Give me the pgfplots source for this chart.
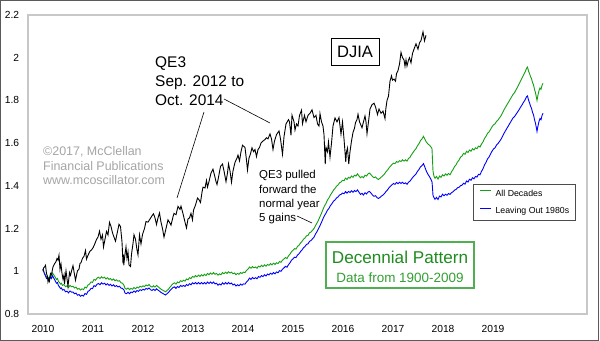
\documentclass[border=0pt]{standalone}
\usepackage{fontspec}
\setmainfont{Liberation Sans}
\usepackage{pgfplots}
\usepackage{pgfplotstable}
\pgfplotsset{compat=1.18}
\definecolor{decgreen}{RGB}{20,160,20}
\definecolor{decblue}{RGB}{0,0,255}
\definecolor{titlegreen}{RGB}{30,140,30}
\definecolor{subgreen}{RGB}{50,160,50}
\definecolor{boxgreen}{RGB}{80,175,80}
\definecolor{axisgray}{RGB}{200,200,200}
\definecolor{copygray}{RGB}{165,165,165}
\definecolor{framegray}{RGB}{90,90,90}

\pgfplotstableread{
x g b
2010.00 1.010 1.010
2010.03 0.990 0.988
2010.05 0.982 0.978
2010.07 0.972 0.966
2010.09 0.976 0.969
2010.11 0.966 0.957
2010.13 0.972 0.962
2010.15 0.984 0.973
2010.17 0.978 0.966
2010.19 0.992 0.979
2010.21 0.985 0.970
2010.23 0.978 0.962
2010.25 0.970 0.953
2010.27 0.962 0.944
2010.29 0.966 0.947
2010.31 0.952 0.932
2010.33 0.948 0.927
2010.35 0.940 0.919
2010.37 0.944 0.922
2010.39 0.934 0.912
2010.42 0.938 0.915
2010.45 0.928 0.904
2010.48 0.932 0.907
2010.51 0.924 0.899
2010.54 0.934 0.908
2010.57 0.928 0.902
2010.60 0.930 0.903
2010.63 0.922 0.895
2010.66 0.926 0.898
2010.69 0.916 0.888
2010.72 0.920 0.891
2010.75 0.912 0.883
2010.78 0.918 0.888
2010.81 0.914 0.884
2010.84 0.926 0.896
2010.87 0.922 0.892
2010.90 0.936 0.906
2010.93 0.940 0.910
2010.96 0.950 0.920
2010.99 0.948 0.919
2011.02 0.962 0.933
2011.05 0.958 0.929
2011.08 0.968 0.939
2011.11 0.972 0.943
2011.14 0.966 0.937
2011.17 0.974 0.946
2011.20 0.968 0.940
2011.23 0.972 0.944
2011.26 0.964 0.936
2011.29 0.970 0.942
2011.32 0.962 0.934
2011.35 0.966 0.939
2011.38 0.958 0.931
2011.41 0.964 0.937
2011.44 0.956 0.929
2011.47 0.960 0.933
2011.50 0.954 0.927
2011.53 0.956 0.930
2011.56 0.946 0.921
2011.59 0.944 0.920
2011.62 0.934 0.912
2011.64 0.920 0.898
2011.67 0.916 0.895
2011.70 0.922 0.902
2011.73 0.914 0.895
2011.76 0.920 0.903
2011.79 0.916 0.900
2011.82 0.924 0.908
2011.85 0.918 0.902
2011.88 0.926 0.910
2011.91 0.922 0.906
2011.94 0.930 0.914
2011.97 0.926 0.910
2012.00 0.932 0.916
2012.03 0.928 0.912
2012.06 0.936 0.920
2012.09 0.932 0.916
2012.12 0.938 0.922
2012.15 0.930 0.914
2012.18 0.926 0.910
2012.21 0.932 0.916
2012.24 0.926 0.910
2012.27 0.934 0.918
2012.30 0.928 0.912
2012.33 0.922 0.907
2012.36 0.916 0.901
2012.39 0.912 0.897
2012.42 0.908 0.893
2012.45 0.904 0.889
2012.48 0.910 0.895
2012.51 0.916 0.901
2012.54 0.926 0.910
2012.57 0.934 0.917
2012.60 0.942 0.924
2012.63 0.946 0.927
2012.66 0.940 0.920
2012.69 0.950 0.929
2012.72 0.946 0.924
2012.75 0.956 0.934
2012.78 0.952 0.929
2012.81 0.958 0.934
2012.84 0.954 0.929
2012.87 0.964 0.938
2012.90 0.960 0.933
2012.93 0.970 0.942
2012.96 0.966 0.937
2012.99 0.976 0.946
2013.02 0.972 0.941
2013.05 0.980 0.948
2013.08 0.974 0.941
2013.11 0.982 0.948
2013.14 0.976 0.941
2013.17 0.984 0.948
2013.20 0.978 0.941
2013.23 0.986 0.948
2013.26 0.980 0.941
2013.29 0.990 0.950
2013.32 0.984 0.943
2013.35 0.992 0.950
2013.38 0.986 0.943
2013.41 0.994 0.950
2013.44 0.986 0.941
2013.47 0.990 0.944
2013.50 0.982 0.935
2013.53 0.988 0.941
2013.56 0.984 0.936
2013.59 0.994 0.946
2013.62 0.988 0.939
2013.65 0.996 0.947
2013.68 0.990 0.940
2013.71 0.998 0.948
2013.74 0.992 0.941
2013.77 0.996 0.945
2013.80 0.988 0.936
2013.83 0.992 0.940
2013.86 0.984 0.931
2013.89 0.990 0.937
2013.92 0.986 0.932
2013.95 0.994 0.940
2013.98 0.990 0.935
2014.01 0.996 0.941
2014.04 0.994 0.940
2014.07 1.004 0.950
2014.10 1.010 0.957
2014.13 1.020 0.968
2014.16 1.014 0.962
2014.19 1.022 0.971
2014.22 1.016 0.965
2014.25 1.020 0.970
2014.28 1.014 0.965
2014.31 1.024 0.975
2014.34 1.020 0.972
2014.37 1.028 0.980
2014.40 1.022 0.975
2014.43 1.030 0.984
2014.46 1.024 0.978
2014.49 1.032 0.987
2014.52 1.028 0.983
2014.55 1.036 0.991
2014.58 1.030 0.986
2014.61 1.038 0.994
2014.64 1.032 0.988
2014.67 1.040 0.997
2014.70 1.036 0.993
2014.73 1.046 1.003
2014.76 1.042 1.000
2014.79 1.052 1.010
2014.82 1.058 1.016
2014.85 1.064 1.023
2014.88 1.060 1.019
2014.91 1.072 1.031
2014.94 1.080 1.040
2014.97 1.092 1.052
2015.00 1.098 1.058
2015.03 1.106 1.066
2015.06 1.104 1.064
2015.09 1.116 1.076
2015.12 1.122 1.082
2015.15 1.132 1.092
2015.18 1.140 1.100
2015.21 1.150 1.110
2015.24 1.156 1.116
2015.27 1.166 1.126
2015.30 1.168 1.128
2015.33 1.180 1.140
2015.36 1.184 1.144
2015.39 1.192 1.152
2015.42 1.200 1.160
2015.45 1.214 1.174
2015.48 1.226 1.186
2015.51 1.240 1.200
2015.54 1.256 1.214
2015.57 1.272 1.229
2015.60 1.290 1.246
2015.63 1.306 1.261
2015.66 1.318 1.272
2015.69 1.334 1.286
2015.72 1.344 1.295
2015.75 1.358 1.308
2015.78 1.368 1.317
2015.81 1.380 1.328
2015.84 1.388 1.334
2015.87 1.398 1.343
2015.90 1.404 1.348
2015.93 1.414 1.357
2015.96 1.418 1.360
2015.99 1.426 1.366
2016.02 1.424 1.363
2016.05 1.436 1.373
2016.08 1.430 1.366
2016.11 1.440 1.374
2016.14 1.436 1.369
2016.17 1.446 1.377
2016.20 1.440 1.370
2016.23 1.450 1.378
2016.26 1.446 1.373
2016.29 1.456 1.381
2016.32 1.446 1.370
2016.35 1.438 1.360
2016.38 1.444 1.365
2016.41 1.438 1.357
2016.44 1.450 1.368
2016.47 1.446 1.362
2016.50 1.456 1.371
2016.53 1.460 1.374
2016.56 1.452 1.366
2016.59 1.444 1.357
2016.62 1.438 1.351
2016.65 1.442 1.354
2016.68 1.434 1.345
2016.71 1.430 1.341
2016.74 1.436 1.346
2016.77 1.442 1.352
2016.80 1.448 1.357
2016.83 1.456 1.364
2016.86 1.466 1.374
2016.89 1.474 1.381
2016.92 1.484 1.391
2016.95 1.492 1.398
2016.98 1.500 1.405
2017.01 1.506 1.411
2017.04 1.504 1.407
2017.07 1.514 1.416
2017.10 1.510 1.410
2017.13 1.518 1.417
2017.16 1.514 1.411
2017.19 1.522 1.417
2017.22 1.516 1.410
2017.25 1.522 1.414
2017.28 1.516 1.407
2017.31 1.528 1.417
2017.34 1.534 1.422
2017.37 1.546 1.432
2017.40 1.556 1.441
2017.43 1.566 1.449
2017.46 1.574 1.456
2017.49 1.588 1.468
2017.52 1.598 1.477
2017.55 1.612 1.489
2017.58 1.620 1.495
2017.61 1.632 1.504
2017.64 1.618 1.486
2017.67 1.604 1.467
2017.70 1.596 1.454
2017.73 1.590 1.443
2017.76 1.582 1.430
2017.78 1.574 1.419
2017.79 1.520 1.390
2017.80 1.470 1.355
2017.82 1.444 1.345
2017.84 1.436 1.337
2017.87 1.444 1.346
2017.90 1.432 1.336
2017.93 1.446 1.352
2017.96 1.440 1.348
2017.99 1.452 1.361
2018.02 1.446 1.354
2018.05 1.456 1.361
2018.08 1.450 1.356
2018.11 1.458 1.364
2018.14 1.452 1.360
2018.17 1.466 1.368
2018.20 1.476 1.372
2018.23 1.490 1.380
2018.26 1.498 1.383
2018.29 1.512 1.391
2018.32 1.520 1.393
2018.35 1.534 1.401
2018.38 1.540 1.403
2018.41 1.552 1.412
2018.44 1.548 1.408
2018.47 1.562 1.423
2018.50 1.556 1.418
2018.53 1.568 1.431
2018.56 1.562 1.426
2018.59 1.574 1.438
2018.62 1.568 1.433
2018.65 1.578 1.444
2018.68 1.574 1.441
2018.71 1.586 1.454
2018.74 1.582 1.452
2018.77 1.596 1.468
2018.80 1.606 1.480
2018.83 1.622 1.498
2018.86 1.632 1.510
2018.89 1.646 1.526
2018.92 1.652 1.535
2018.95 1.664 1.549
2018.98 1.676 1.562
2019.01 1.686 1.573
2019.04 1.690 1.578
2019.07 1.702 1.591
2019.10 1.708 1.598
2019.13 1.718 1.608
2019.16 1.728 1.618
2019.19 1.742 1.632
2019.22 1.756 1.646
2019.25 1.768 1.658
2019.28 1.780 1.670
2019.31 1.792 1.682
2019.34 1.804 1.694
2019.37 1.816 1.706
2019.40 1.828 1.718
2019.43 1.836 1.724
2019.46 1.850 1.735
2019.49 1.862 1.745
2019.52 1.876 1.756
2019.55 1.890 1.768
2019.58 1.904 1.779
2019.61 1.918 1.791
2019.64 1.932 1.802
2019.67 1.950 1.817
2019.69 1.956 1.821
2019.71 1.938 1.802
2019.73 1.926 1.789
2019.75 1.912 1.774
2019.77 1.902 1.763
2019.79 1.884 1.744
2019.81 1.874 1.733
2019.83 1.852 1.710
2019.85 1.836 1.693
2019.87 1.812 1.668
2019.88 1.800 1.655
2019.90 1.826 1.681
2019.92 1.846 1.702
2019.94 1.858 1.715
2019.96 1.852 1.710
2019.98 1.870 1.729
2020.00 1.880 1.740
}\decennial

\pgfplotstableread{
x y
2010.00 1.000
2010.01 1.015
2010.03 1.020
2010.05 1.028
2010.07 0.990
2010.09 0.975
2010.10 0.950
2010.12 0.965
2010.13 0.955
2010.15 0.990
2010.17 0.985
2010.20 1.021
2010.23 1.035
2010.26 1.045
2010.28 1.060
2010.30 1.052
2010.32 1.075
2010.34 1.009
2010.36 1.034
2010.38 0.990
2010.40 0.963
2010.42 0.983
2010.43 0.941
2010.46 1.002
2010.48 0.965
2010.50 0.929
2010.53 0.994
2010.55 0.981
2010.58 1.010
2010.60 1.026
2010.63 0.985
2010.65 0.958
2010.69 1.003
2010.72 1.010
2010.74 1.037
2010.76 1.040
2010.79 1.061
2010.82 1.070
2010.85 1.097
2010.87 1.057
2010.90 1.075
2010.94 1.094
2010.97 1.100
2011.00 1.110
2011.03 1.125
2011.07 1.149
2011.10 1.160
2011.13 1.188
2011.16 1.150
2011.19 1.170
2011.21 1.114
2011.24 1.150
2011.27 1.187
2011.30 1.170
2011.33 1.229
2011.36 1.210
2011.39 1.180
2011.42 1.160
2011.45 1.141
2011.48 1.175
2011.52 1.220
2011.55 1.210
2011.58 1.138
2011.60 1.037
2011.61 1.078
2011.615 1.028
2011.64 1.080
2011.66 1.114
2011.68 1.060
2011.70 1.090
2011.72 1.029
2011.75 1.022
2011.77 1.080
2011.80 1.130
2011.82 1.171
2011.85 1.150
2011.88 1.100
2011.90 1.077
2011.93 1.170
2011.96 1.128
2011.99 1.172
2012.03 1.200
2012.06 1.233
2012.10 1.230
2012.14 1.245
2012.18 1.260
2012.21 1.269
2012.24 1.250
2012.27 1.219
2012.30 1.250
2012.33 1.273
2012.36 1.230
2012.39 1.200
2012.42 1.160
2012.46 1.200
2012.50 1.241
2012.54 1.225
2012.56 1.216
2012.60 1.255
2012.62 1.271
2012.66 1.265
2012.70 1.304
2012.74 1.290
2012.76 1.305
2012.80 1.270
2012.84 1.230
2012.87 1.203
2012.90 1.245
2012.93 1.250
2012.96 1.271
2012.99 1.241
2013.01 1.286
2013.05 1.310
2013.09 1.343
2013.12 1.335
2013.15 1.322
2013.18 1.370
2013.20 1.394
2013.24 1.390
2013.27 1.425
2013.29 1.394
2013.32 1.420
2013.36 1.460
2013.40 1.478
2013.43 1.450
2013.46 1.420
2013.48 1.406
2013.51 1.440
2013.55 1.491
2013.59 1.502
2013.62 1.470
2013.66 1.420
2013.69 1.460
2013.71 1.503
2013.74 1.470
2013.77 1.417
2013.80 1.470
2013.84 1.510
2013.88 1.530
2013.90 1.544
2013.93 1.517
2013.96 1.560
2013.99 1.590
2014.04 1.580
2014.07 1.520
2014.09 1.474
2014.12 1.530
2014.15 1.550
2014.18 1.578
2014.21 1.560
2014.24 1.570
2014.27 1.537
2014.30 1.570
2014.33 1.580
2014.36 1.601
2014.40 1.610
2014.43 1.615
2014.47 1.625
2014.50 1.620
2014.54 1.643
2014.57 1.620
2014.60 1.570
2014.63 1.610
2014.67 1.640
2014.72 1.657
2014.75 1.620
2014.79 1.548
2014.82 1.630
2014.86 1.690
2014.91 1.710
2014.93 1.700
2014.96 1.637
2014.98 1.731
2015.02 1.700
2015.04 1.661
2015.07 1.690
2015.10 1.680
2015.13 1.730
2015.17 1.754
2015.19 1.691
2015.23 1.730
2015.26 1.700
2015.30 1.730
2015.34 1.740
2015.38 1.756
2015.42 1.720
2015.46 1.730
2015.49 1.690
2015.52 1.680
2015.54 1.738
2015.57 1.700
2015.60 1.680
2015.62 1.640
2015.645 1.502
2015.66 1.580
2015.69 1.560
2015.71 1.605
2015.74 1.534
2015.77 1.600
2015.80 1.680
2015.84 1.718
2015.88 1.700
2015.92 1.720
2015.96 1.642
2015.99 1.699
2016.02 1.620
2016.04 1.560
2016.055 1.512
2016.07 1.560
2016.09 1.577
2016.115 1.502
2016.14 1.560
2016.17 1.610
2016.20 1.650
2016.23 1.670
2016.25 1.696
2016.28 1.710
2016.30 1.735
2016.33 1.700
2016.38 1.672
2016.41 1.700
2016.44 1.727
2016.46 1.700
2016.48 1.644
2016.51 1.700
2016.54 1.760
2016.58 1.780
2016.62 1.787
2016.65 1.770
2016.69 1.734
2016.72 1.760
2016.76 1.740
2016.80 1.750
2016.84 1.715
2016.855 1.758
2016.88 1.800
2016.91 1.820
2016.94 1.890
2016.97 1.915
2016.99 1.895
2017.02 1.900
2017.05 1.890
2017.07 1.925
2017.10 1.940
2017.13 1.970
2017.16 2.025
2017.19 2.000
2017.22 1.990
2017.24 1.960
2017.26 1.990
2017.28 1.961
2017.31 1.990
2017.33 2.000
2017.36 1.976
2017.39 2.020
2017.42 2.040
2017.46 2.065
2017.50 2.040
2017.53 2.070
2017.56 2.080
2017.60 2.121
2017.63 2.079
2017.66 2.105
}\djia

\begin{document}
\begin{tikzpicture}
\path[use as bounding box] (-28bp,-27bp) rectangle (572bp,314bp);
\fill[white] (-28bp,-27bp) rectangle (572bp,314bp);
\begin{axis}[
  at={(0bp,0bp)}, anchor=south west,
  scale only axis, width=559bp, height=299bp,
  xmin=2009.7, xmax=2020.88, ymin=0.8, ymax=2.2,
  axis line style={axisgray, line width=1.2bp},
  xtick={2010,2011,2012,2013,2014,2015,2016,2017,2018,2019},
  xticklabels={2010,2011,2012,2013,2014,2015,2016,2017,2018,2019},
  ytick={0.8,1,1.2,1.4,1.6,1.8,2,2.2},
  major tick length=0pt,
  tick style={draw=none},
  /pgf/number format/assume math mode=true,
  yticklabel style={anchor=east, inner sep=0pt, xshift=-8.7bp, font=\fontsize{10.3}{12}\selectfont},
  xticklabel style={anchor=north, inner sep=0pt, yshift=-11bp, font=\fontsize{10.3}{12}\selectfont},
  legend style={at={(0.7961,0.4348)}, anchor=north west, draw=black!70, line width=1.2bp,
    fill=white, inner xsep=6bp, inner ysep=5bp, row sep=9bp,
    font=\fontsize{8.8}{10}\selectfont,
    nodes={inner sep=0pt, text height=6.5bp, text depth=2bp},
    /tikz/every odd column/.style={column sep=4bp}},
  legend cell align=left,
  legend image code/.code={\draw[#1,line width=1bp] (0bp,3bp) -- (11bp,3bp);},
]
\addplot[decgreen, line width=0.9bp] table[x=x, y=g] {\decennial};
\addlegendentry{All Decades}
\addplot[decblue, line width=0.9bp] table[x=x, y=b] {\decennial};
\addlegendentry{Leaving Out 1980s}
\addplot[black, line width=0.9bp, forget plot] table[x=x, y=y] {\djia};
\end{axis}
% outer frame
\draw[framegray, line width=1bp] (-27.5bp,-26.5bp) rectangle (570.5bp,313.5bp);
% QE3 annotation
\node[anchor=base west, inner sep=0pt, font=\fontsize{15.5}{18}\selectfont] at (127bp,246bp) {QE3};
\node[anchor=base west, inner sep=0pt, font=\fontsize{15.5}{18}\selectfont] at (127bp,227bp) {Sep. 2012 to};
\node[anchor=base west, inner sep=0pt, font=\fontsize{15.5}{18}\selectfont] at (127bp,208bp) {Oct. 2014};
\draw[black, line width=0.6bp] (196bp,215bp) -- (242bp,191bp);
\draw[black, line width=0.6bp] (176bp,202bp) -- (149bp,116bp);
% QE3 pulled forward
\node[anchor=base west, inner sep=0pt, font=\fontsize{11.5}{13}\selectfont] at (231bp,135bp) {QE3 pulled};
\node[anchor=base west, inner sep=0pt, font=\fontsize{11.5}{13}\selectfont] at (231bp,120.7bp) {forward the};
\node[anchor=base west, inner sep=0pt, font=\fontsize{11.5}{13}\selectfont] at (231bp,106.5bp) {normal year};
\node[anchor=base west, inner sep=0pt, font=\fontsize{11.5}{13}\selectfont] at (231bp,92.3bp) {5 gains};
\draw[black, line width=0.6bp] (269bp,98bp) -- (284bp,91bp);
% copyright
\node[anchor=base west, inner sep=0pt, text=copygray, font=\fontsize{12.5}{14}\selectfont] at (15bp,158.3bp) {©2017, McClellan};
\node[anchor=base west, inner sep=0pt, text=copygray, font=\fontsize{12.5}{14}\selectfont] at (15bp,143.5bp) {Financial Publications};
\node[anchor=base west, inner sep=0pt, text=copygray, font=\fontsize{12.5}{14}\selectfont] at (15bp,129bp) {www.mcoscillator.com};
% DJIA box
\node[draw=black, line width=0.8bp, minimum width=48bp, minimum height=27bp, inner sep=0pt, font=\fontsize{16.6}{19}\selectfont] at (327bp,262.5bp) {DJIA};
% Decennial box
\draw[boxgreen, line width=1.2bp] (298bp,26bp) rectangle (446bp,72bp);
\node[anchor=base, inner sep=0pt, text=titlegreen, font=\fontsize{17.2}{20}\selectfont] at (372bp,50.7bp) {Decennial Pattern};
\node[anchor=base, inner sep=0pt, text=subgreen, font=\fontsize{13.5}{16}\selectfont] at (372bp,31.3bp) {Data from 1900-2009};
\end{tikzpicture}
\end{document}
